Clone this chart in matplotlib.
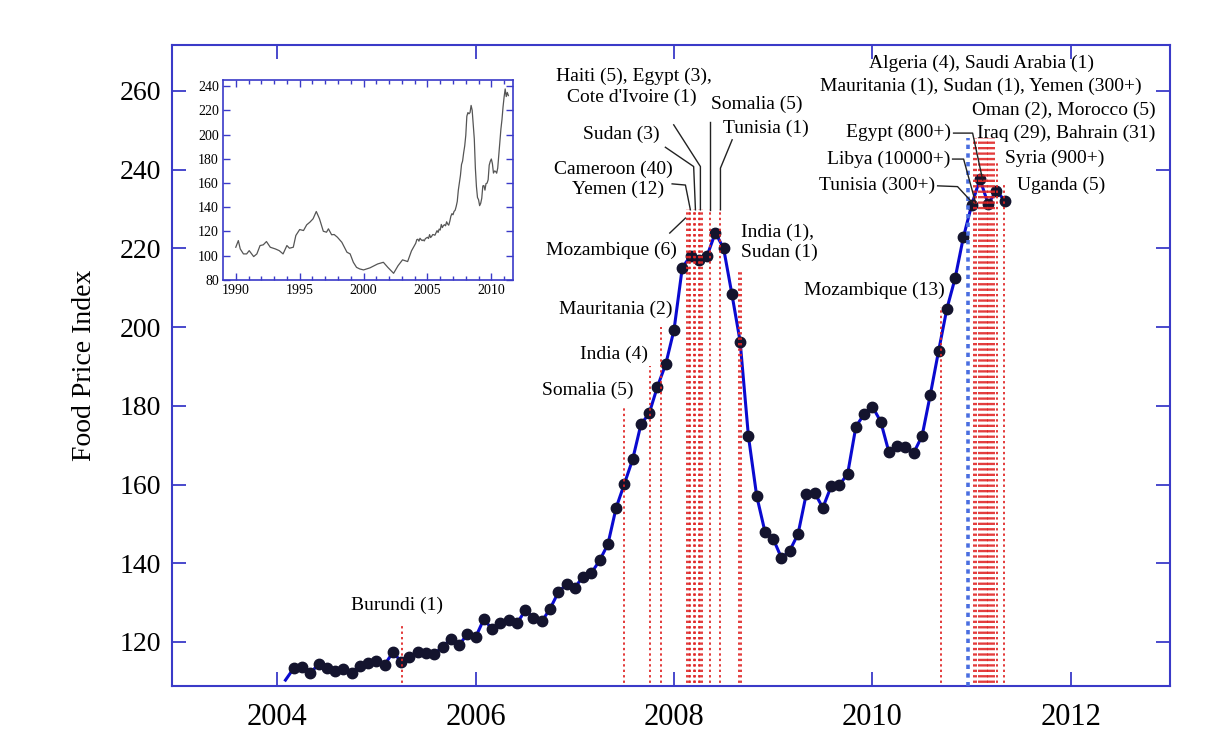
import numpy as np
import matplotlib
matplotlib.use('Agg')
import matplotlib.pyplot as plt

plt.rcParams['font.family'] = ['Liberation Serif', 'DejaVu Serif']

# FAO food price index, monthly from Jan 2004
fpi = [110.3, 113.3, 113.6, 112.0, 114.4, 113.3, 112.5, 113.1, 112.2, 114.0, 114.7, 115.2,
       114.2, 117.4, 115.0, 116.1, 117.5, 117.3, 116.9, 118.8, 120.7, 119.2, 122.0, 121.2,
       125.8, 123.2, 124.9, 125.6, 124.7, 128.0, 126.2, 125.2, 128.4, 132.6, 134.7, 133.8,
       136.6, 137.5, 140.7, 144.8, 154.1, 160.2, 166.4, 175.3, 178.1, 184.9, 190.6, 199.3,
       215.1, 218.1, 217.1, 218.1, 224.0, 220.0, 208.4, 196.3, 172.3, 157.1, 148.0, 146.2,
       141.3, 143.2, 147.4, 157.6, 157.9, 154.1, 159.5, 159.9, 162.7, 174.7, 177.9, 179.8,
       176.0, 168.2, 169.9, 169.6, 168.1, 172.3, 182.8, 193.9, 204.6, 212.4, 222.8, 231.0,
       237.6, 231.3, 234.7, 232.1]
dates = 2004 + np.arange(1, len(fpi) + 1) / 12.0

# long run series for the inset, 1990-2003 part
early_years = [1990.0, 1990.2, 1990.35, 1990.6, 1990.85, 1991.05, 1991.4, 1991.65, 1991.9, 1992.15,
               1992.4, 1992.7, 1993.1, 1993.4, 1993.7, 1994.0, 1994.2, 1994.5, 1994.7, 1995.0,
               1995.3, 1995.55, 1995.8, 1996.05, 1996.3, 1996.55, 1996.85, 1997.1, 1997.25, 1997.5,
               1997.7, 1997.95, 1998.3, 1998.7, 1998.95, 1999.2, 1999.45, 1999.7, 2000.0, 2000.5,
               2001.1, 2001.55, 2001.9, 2002.35, 2002.7, 2003.05, 2003.45, 2003.75]
early_vals = [107, 112.5, 105.6, 101.5, 101.5, 104.2, 99.3, 101.5, 108.4, 109,
              111.7, 107, 105.6, 104.2, 101.5, 108.4, 106.2, 107, 116.7, 121.6,
              120.8, 125.5, 127.7, 130.5, 136.5, 130.5, 120.2, 119.4, 122.2, 117.3,
              117.5, 115.3, 111.1, 102.9, 101.5, 94.6, 90.4, 89.1, 88.3, 90.0,
              93.2, 94.6, 90.4, 85.5, 91.8, 96.6, 95.2, 104]

# riot dates (year) and how high the dotted line reaches
riot_x = [2005.258, 2007.493, 2007.755, 2007.870,
          2008.132, 2008.150, 2008.165, 2008.200, 2008.216, 2008.250, 2008.266, 2008.283,
          2008.360, 2008.468, 2008.660, 2008.680, 2010.687,
          2011.02, 2011.04, 2011.07, 2011.09, 2011.11, 2011.13, 2011.15, 2011.17, 2011.19,
          2011.21, 2011.23, 2011.26, 2011.33]
riot_top = [124.8, 179.5, 190, 200,
            230, 230, 230, 230, 230, 230, 230, 230,
            230, 230, 214, 214, 205,
            248, 248, 248, 248, 248, 248, 248, 248, 248,
            248, 248, 242, 237]
tunisia_x = 2010.96
tunisia_top = 248

# (text, x, y, ha)
labels = [
    ("Burundi (1)", 2005.21, 129.4, 'center'),
    ("Somalia (5)", 2007.59, 184.0, 'right'),
    ("India (4)", 2007.742, 193.2, 'right'),
    ("Mauritania (2)", 2007.984, 204.4, 'right'),
    ("Mozambique (6)", 2008.024, 219.4, 'right'),
    ("Cameroon (40)", 2007.389, 240.2, 'center'),
    ("Yemen (12)", 2007.439, 234.9, 'center'),
    ("Sudan (3)", 2007.464, 249.1, 'center'),
    ("Haiti (5), Egypt (3),", 2007.591, 263.6, 'center'),
    ("Cote d'Ivoire (1)", 2007.575, 258.5, 'center'),
    ("Somalia (5)", 2008.836, 256.5, 'center'),
    ("Tunisia (1)", 2008.922, 250.6, 'center'),
    ("India (1),", 2008.68, 224.2, 'left'),
    ("Sudan (1)", 2008.68, 219.1, 'left'),
    ("Mozambique (13)", 2010.727, 209.4, 'right'),
    ("Tunisia (300+)", 2010.636, 235.9, 'right'),
    ("Libya (10000+)", 2010.788, 242.7, 'right'),
    ("Egypt (800+)", 2010.788, 249.6, 'right'),
    ("Algeria (4), Saudi Arabia (1)", 2011.10, 267.1, 'center'),
    ("Mauritania (1), Sudan (1), Yemen (300+)", 2011.095, 261.3, 'center'),
    ("Oman (2), Morocco (5)", 2012.855, 255.2, 'right'),
    ("Iraq (29), Bahrain (31)", 2012.855, 249.3, 'right'),
    ("Syria (900+)", 2011.837, 243.0, 'center'),
    ("Uganda (5)", 2011.907, 236.1, 'center'),
]

# leader lines from label to riot line
leaders = [
    ([2007.981, 2008.115, 2008.165], [236.4, 236.1, 229.8]),
    ([2007.957, 2008.115], [223.9, 227.7]),
    ([2007.913, 2008.198, 2008.216], [245.7, 240.8, 229.8]),
    ([2007.997, 2008.266, 2008.266], [251.4, 240.8, 229.8]),
    ([2008.360, 2008.360], [252.2, 229.8]),
    ([2008.586, 2008.468, 2008.468], [247.6, 240.4, 229.8]),
    ([2010.818, 2011.010, 2011.111], [249.3, 249.3, 237.4]),
    ([2010.808, 2010.919, 2011.040], [242.7, 242.7, 231.6]),
    ([2010.657, 2010.858, 2011.020], [235.9, 235.7, 231.3]),
]

spine_blue = '#3a3ac8'

fig = plt.figure(figsize=(12.28, 7.48), dpi=100)
ax = fig.add_axes([0.1401, 0.0829, 0.8127, 0.8570])

ax.plot(dates, fpi, color='#0a0ad0', lw=2.2, zorder=3)
ax.plot(dates[1:], fpi[1:], 'o', color='#14142e', ms=7.5, zorder=4)

for x, top in zip(riot_x, riot_top):
    ax.plot([x, x], [100, top], color='#e02424', lw=1.4, ls=(0, (1.2, 1.6)), zorder=5, alpha=0.9)
ax.plot([tunisia_x, tunisia_x], [100, tunisia_top], color='#4a6ee0', lw=2.6, ls=(0, (1.2, 1.2)), zorder=5)

for xs, ys in leaders:
    ax.plot(xs, ys, color='#222222', lw=1.0, zorder=6)

for txt, x, y, ha in labels:
    ax.text(x, y, txt, ha=ha, va='center', fontsize=14, zorder=7)

ax.set_xlim(2002.94, 2013.0)
ax.set_ylim(108.8, 271.7)
ax.set_xticks([2004, 2006, 2008, 2010, 2012])
ax.set_yticks([120, 140, 160, 180, 200, 220, 240, 260])
ax.tick_params(axis='x', labelsize=22, pad=12)
ax.tick_params(axis='y', labelsize=20, pad=8)
ax.tick_params(direction='in', length=10, width=1.3, color=spine_blue,
               top=True, right=True)
for s in ax.spines.values():
    s.set_color(spine_blue)
    s.set_linewidth(1.5)
ax.set_ylabel("Food Price Index", fontsize=20, labelpad=16)

# inset with the long series
ins = fig.add_axes([0.1816, 0.6257, 0.2362, 0.2674])
ins.plot(list(early_years) + list(dates), list(early_vals) + list(fpi), color='#555555', lw=0.9)
ins.set_xlim(1989.0, 2011.7)
ins.set_ylim(80, 245)
ins.set_xticks([1990, 1995, 2000, 2005, 2010])
ins.set_xticks(np.arange(1990, 2012), minor=True)
ins.set_yticks([80, 100, 120, 140, 160, 180, 200, 220, 240])
ins.tick_params(labelsize=10, direction='in', color=spine_blue, top=True, right=True,
                length=5, width=1.0, pad=3)
ins.tick_params(which='minor', direction='in', color=spine_blue, top=True, length=3, width=1.0)
for s in ins.spines.values():
    s.set_color(spine_blue)
    s.set_linewidth(1.2)

fig.savefig('out.png', dpi=100)
